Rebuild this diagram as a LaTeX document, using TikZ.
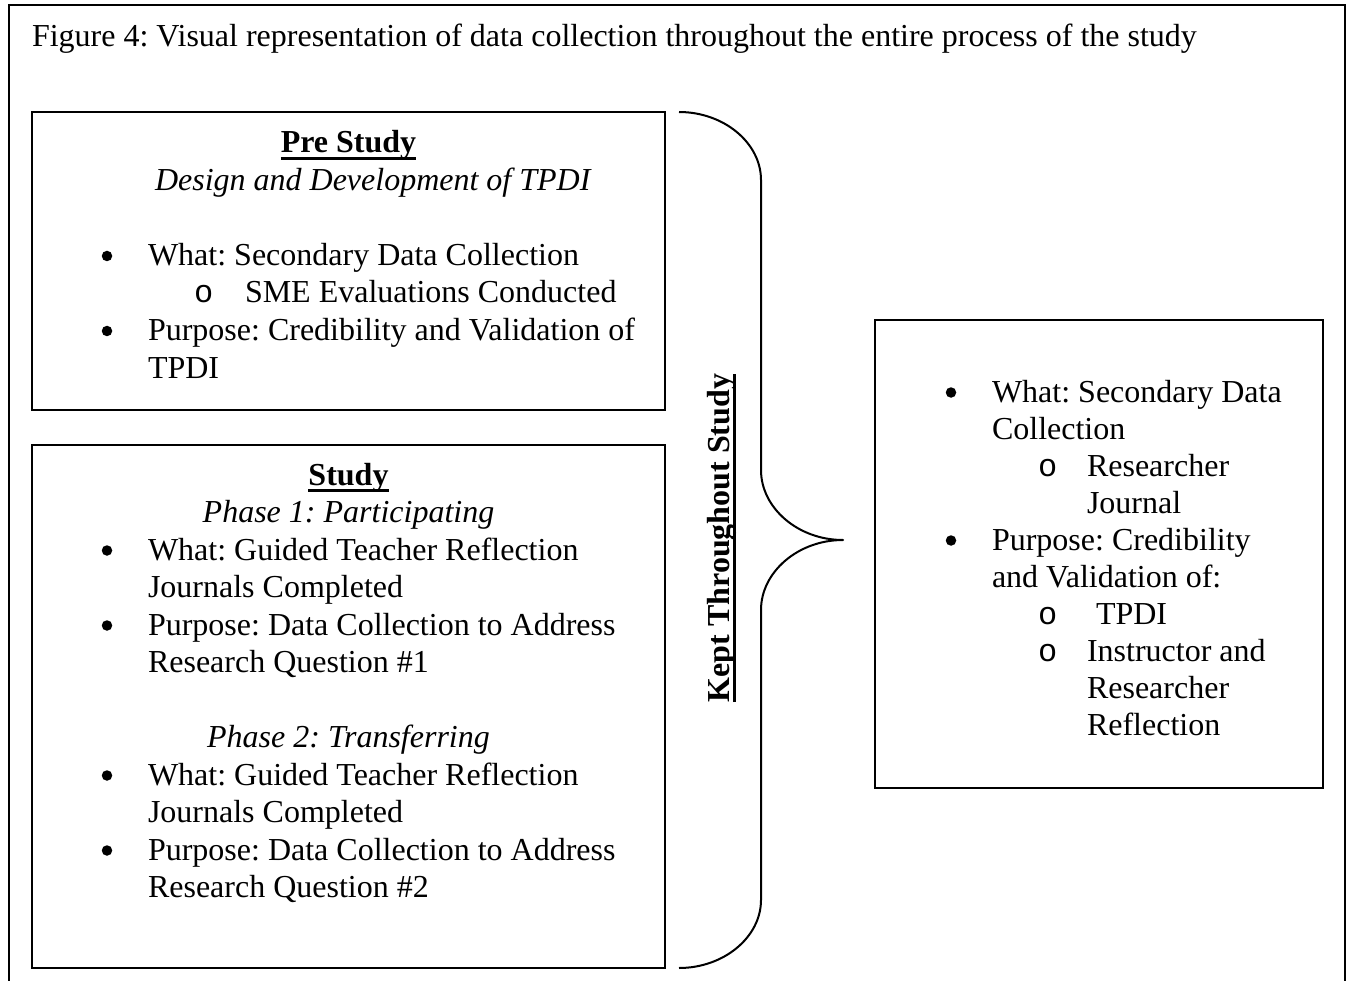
\documentclass[tikz,border=0pt]{standalone}
\usepackage{fontspec}
\setmainfont{Liberation Serif}
\newfontfamily\markfont{Liberation Mono}
\frenchspacing
\newcommand\ulinebox[1]{{\setbox0=\hbox{#1}\rlap{\rule[-7pt]{\wd0}{2.6pt}}\box0}}
\tikzset{
  base font/.style={font=\fontsize{32}{37}\selectfont},
  txt/.style={base font, anchor=base west, inner sep=0pt, outer sep=0pt},
  headline/.style={font=\fontsize{32}{37}\selectfont\bfseries, anchor=base, inner sep=0pt, outer sep=0pt},
  subhead/.style={font=\fontsize{32}{37}\selectfont\itshape, anchor=base, inner sep=0pt, outer sep=0pt},
  submark/.style={font=\fontsize{32}{37}\selectfont\markfont, anchor=base west, inner sep=0pt, outer sep=0pt},
  dotmark/.style={circle, fill=black, inner sep=0pt, minimum size=10.5pt},
  frame box/.style={draw=black, line width=2pt, inner sep=0pt, outer sep=0pt},
}
\begin{document}
\begin{tikzpicture}[x=1pt,y=-1pt]
\useasboundingbox (0,0) rectangle (1351,981);
% outer frame (open at bottom)
\coordinate (fbl) at (9,981);
\coordinate (ftl) at (9,5);
\coordinate (ftr) at (1345,5);
\coordinate (fbr) at (1345,981);
\draw[line width=2.5pt] (fbl) -- (ftl) -- (ftr) -- (fbr);

\node[txt] (title) at (32,47) {Figure 4: Visual representation of data collection throughout the entire process of the study};

% Pre Study box
\node[frame box, minimum width=633pt, minimum height=298pt] (prebox) at (348.5,261) {};
\node[headline] (prehead) at (348.5,153) {\ulinebox{Pre Study}};
\node[txt, font=\fontsize{32}{37}\selectfont\itshape] (presub) at (155,190.5) {Design and Development of TPDI};
\node[dotmark] (preb1) at (107,256) {};
\node[txt] (pre1) at (148,265.5) {What: Secondary Data Collection};
\node[submark] (preo1) at (194,303) {o};
\node[txt] (pre2) at (245,303) {SME Evaluations Conducted};
\node[dotmark] (preb2) at (107,331) {};
\node[txt] (pre3) at (148,340.5) {Purpose: Credibility and Validation of};
\node[txt] (pre4) at (148,378) {TPDI};

% Study box
\node[frame box, minimum width=633pt, minimum height=523pt] (studybox) at (348.5,706.5) {};
\node[headline] (studyhead) at (348.5,485) {\ulinebox{Study}};
\node[subhead] (ph1) at (348.5,522.5) {Phase 1: Participating};
\node[dotmark] (sb1) at (107,550.5) {};
\node[txt] (s1) at (148,560) {What: Guided Teacher Reflection};
\node[txt] (s2) at (148,597.5) {Journals Completed};
\node[dotmark] (sb2) at (107,625.5) {};
\node[txt] (s3) at (148,635) {Purpose: Data Collection to Address};
\node[txt] (s4) at (148,672.5) {Research Question \#1};
\node[subhead] (ph2) at (348.5,747.5) {Phase 2: Transferring};
\node[dotmark] (sb3) at (107,775.5) {};
\node[txt] (s5) at (148,785) {What: Guided Teacher Reflection};
\node[txt] (s6) at (148,822.5) {Journals Completed};
\node[dotmark] (sb4) at (107,850.5) {};
\node[txt] (s7) at (148,860) {Purpose: Data Collection to Address};
\node[txt] (s8) at (148,897.5) {Research Question \#2};

% brace
\coordinate (brtop) at (679,112);
\coordinate (brtip) at (843,540);
\coordinate (brbot) at (679,968);
\draw[line width=2pt, line join=round] (brtop) .. controls (724,112) and (761,143) .. (761,180)
  -- (761,470) .. controls (761,508) and (798,540) .. (brtip)
  .. controls (798,540) and (761,572) .. (761,610)
  -- (761,900) .. controls (761,937) and (724,968) .. (brbot);

% vertical label
\node[headline, rotate=90] (kept) at (729,538) {\ulinebox{Kept Throughout Study}};

% right box
\node[frame box, minimum width=448pt, minimum height=468pt] (rbox) at (1099,554) {};
\node[dotmark] (rb1) at (951,392.5) {};
\node[txt] (r1) at (992,402) {What: Secondary Data};
\node[txt] (r2) at (992,439) {Collection};
\node[submark] (ro1) at (1038,476) {o};
\node[txt] (r3) at (1087,476) {Researcher};
\node[txt] (r4) at (1087,513) {Journal};
\node[dotmark] (rb2) at (951,540.5) {};
\node[txt] (r5) at (992,550) {Purpose: Credibility};
\node[txt] (r6) at (992,587) {and Validation of:};
\node[submark] (ro2) at (1038,624) {o};
\node[txt] (r7) at (1096,624) {TPDI};
\node[submark] (ro3) at (1038,661) {o};
\node[txt] (r8) at (1087,661) {Instructor and};
\node[txt] (r9) at (1087,698) {Researcher};
\node[txt] (r10) at (1087,735) {Reflection};
\end{tikzpicture}
\end{document}
